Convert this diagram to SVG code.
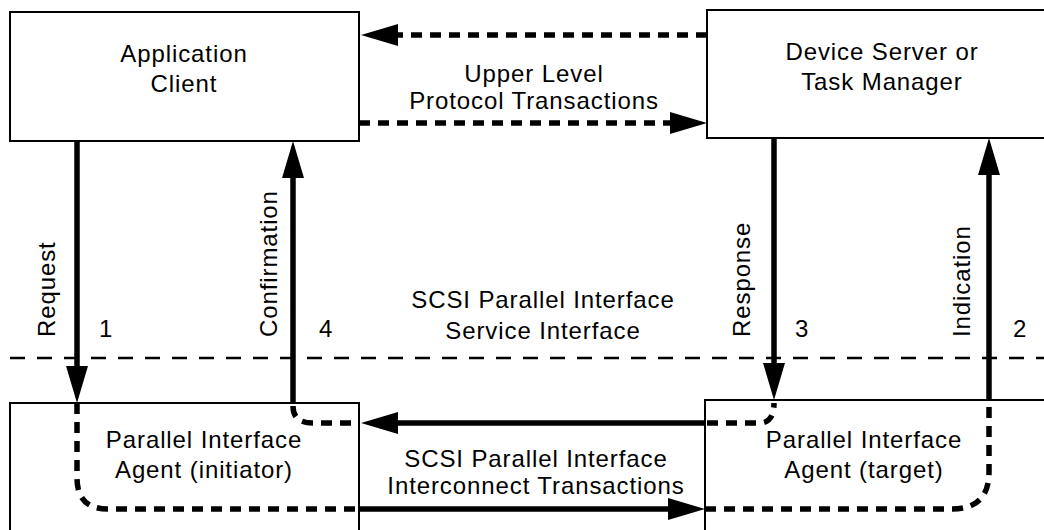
<svg xmlns="http://www.w3.org/2000/svg" width="1044" height="530" viewBox="0 0 1044 530">
<style>
.box{fill:#fff;stroke:#000;stroke-width:2}
.t{font-family:"Liberation Sans",Arial,Helvetica,sans-serif;font-size:24px;letter-spacing:0.9px;fill:#000;text-anchor:middle}
.ts{font-family:"Liberation Sans",Arial,Helvetica,sans-serif;font-size:24px;letter-spacing:0.9px;fill:#000;text-anchor:start}
.solid{fill:none;stroke:#000;stroke-width:5.5}
.dash{fill:none;stroke:#000;stroke-width:5.5;stroke-dasharray:11 8}
.mid{fill:none;stroke:#000;stroke-width:2.5;stroke-dasharray:15 12}
</style>
<defs>
<marker id="ah" markerUnits="userSpaceOnUse" markerWidth="38" markerHeight="24" refX="0" refY="11" orient="auto" viewBox="0 0 38 22">
<path d="M0,0 L37,11 L0,22 Z" fill="#000"/>
</marker>
</defs>

<rect width="1044" height="530" fill="#fff"/>

<g id="app-client">
<rect class="box" x="10" y="12" width="349" height="129"/>
<text class="t" x="184" y="62">Application</text>
<text class="t" x="184" y="92">Client</text>
</g>

<g id="device-server">
<rect class="box" x="707" y="10" width="350" height="128"/>
<text class="t" x="882" y="60">Device Server or</text>
<text class="t" x="882" y="90">Task Manager</text>
</g>

<g id="agent-initiator">
<rect class="box" x="10" y="403" width="349" height="150"/>
<text class="t" x="204" y="448">Parallel Interface</text>
<text class="t" x="204" y="478">Agent (initiator)</text>
</g>

<g id="agent-target">
<rect class="box" x="705" y="400" width="350" height="150"/>
<text class="t" x="864" y="448">Parallel Interface</text>
<text class="t" x="864" y="478">Agent (target)</text>
</g>

<g id="service-interface">
<path class="mid" d="M10,358 L1044,358"/>
<text class="t" x="543" y="308">SCSI Parallel Interface</text>
<text class="t" x="543" y="339">Service Interface</text>
</g>

<g id="labels">
<text class="t" x="534" y="82">Upper Level</text>
<text class="t" x="534" y="109">Protocol Transactions</text>
<text class="t" x="536" y="467">SCSI Parallel Interface</text>
<text class="t" x="536" y="494">Interconnect Transactions</text>
<text class="ts" transform="translate(55,337) rotate(-90)">Request</text>
<text class="ts" transform="translate(277,337) rotate(-90)">Confirmation</text>
<text class="ts" transform="translate(750,337) rotate(-90)">Response</text>
<text class="ts" transform="translate(970,337) rotate(-90)">Indication</text>
<text class="t" x="106" y="337">1</text>
<text class="t" x="326" y="337">4</text>
<text class="t" x="802" y="337">3</text>
<text class="t" x="1020" y="337">2</text>
</g>

<g id="connectors">
<path class="dash" d="M707,35 L398,35" marker-end="url(#ah)"/>
<path class="dash" d="M359,123 L670,123" marker-end="url(#ah)"/>
<path class="solid" d="M77,141 L77,366" marker-end="url(#ah)"/>
<path class="solid" d="M293,403 L293,178" marker-end="url(#ah)"/>
<path class="solid" d="M774,138 L774,363" marker-end="url(#ah)"/>
<path class="solid" d="M989,400 L989,175" marker-end="url(#ah)"/>
<path class="solid" d="M705,423 L398,423" marker-end="url(#ah)"/>
<path class="solid" d="M359,509 L668,509" marker-end="url(#ah)"/>
<path class="dash" d="M293,406 C293,418 300,423 313,423 L359,423"/>
<path class="dash" d="M77,403 L77,478 Q77,509 108,509 L359,509"/>
<path class="dash" d="M707,423 L759,423 Q774,423 774,403"/>
<path class="dash" d="M705,509 L952,509 Q989,509 989,472 L989,400"/>
</g>
</svg>
